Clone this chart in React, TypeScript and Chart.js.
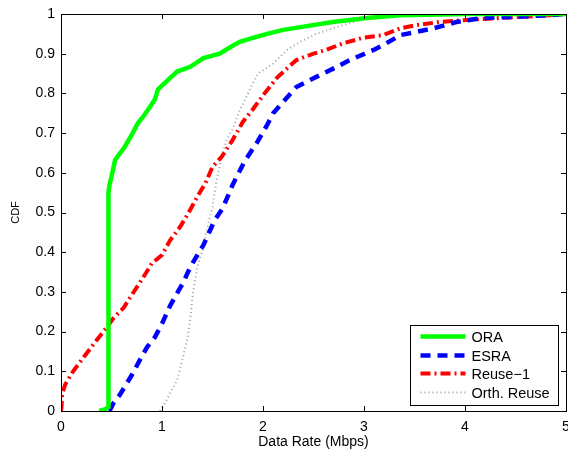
import React, { useEffect, useRef } from "react";
import { Chart, registerables } from "chart.js";

Chart.register(...registerables);

const seriesLabels = ["ORA", "ESRA", "Reuse\u22121", "Orth. Reuse"];

const oraX = [0.38, 0.44, 0.47, 0.47, 0.48, 0.5, 0.535, 0.58, 0.63, 0.71, 0.76, 0.81, 0.88, 0.93, 0.96, 1.06, 1.15, 1.28, 1.41, 1.57, 1.7, 1.77, 1.9, 2.04, 2.2, 2.37, 2.69, 3.03, 3.36, 4.0, 5.0];
const oraY = [0, 0.005, 0.01, 0.55, 0.57, 0.59, 0.632, 0.648, 0.665, 0.7, 0.725, 0.74, 0.766, 0.785, 0.81, 0.834, 0.855, 0.867, 0.889, 0.9, 0.92, 0.93, 0.94, 0.95, 0.96, 0.967, 0.98, 0.99, 0.997, 1.0, 1.0];

const esraX = [0.48, 0.52, 0.58, 0.64, 0.7, 0.78, 0.85, 0.93, 1.0, 1.08, 1.15, 1.21, 1.28, 1.41, 1.52, 1.6, 1.7, 1.82, 1.94, 2.04, 2.1, 2.19, 2.33, 2.5, 2.7, 2.86, 3.09, 3.22, 3.36, 3.52, 3.69, 3.92, 4.18, 4.51, 4.84, 5.0];
const esraY = [0, 0.02, 0.04, 0.065, 0.09, 0.128, 0.16, 0.186, 0.22, 0.265, 0.297, 0.323, 0.363, 0.418, 0.48, 0.51, 0.57, 0.63, 0.676, 0.72, 0.75, 0.776, 0.816, 0.838, 0.863, 0.884, 0.909, 0.926, 0.947, 0.955, 0.964, 0.98, 0.99, 0.993, 0.997, 1.0];

const reuseX = [0, 0.005, 0.01, 0.04, 0.12, 0.22, 0.34, 0.45, 0.52, 0.62, 0.7, 0.81, 0.9, 1.0, 1.08, 1.18, 1.26, 1.35, 1.43, 1.5, 1.59, 1.7, 1.8, 1.9, 2.0, 2.14, 2.33, 2.5, 2.63, 2.79, 2.99, 3.19, 3.36, 3.52, 3.75, 4.02, 4.35, 4.84, 5.0];
const reuseY = [0, 0.01, 0.04, 0.066, 0.1, 0.134, 0.174, 0.21, 0.234, 0.26, 0.292, 0.335, 0.372, 0.393, 0.43, 0.464, 0.498, 0.54, 0.574, 0.615, 0.64, 0.683, 0.728, 0.76, 0.795, 0.84, 0.884, 0.9, 0.91, 0.926, 0.94, 0.947, 0.964, 0.972, 0.98, 0.985, 0.99, 0.997, 1.0];

const orthX = [0.98, 1.03, 1.08, 1.15, 1.2, 1.25, 1.28, 1.3, 1.35, 1.41, 1.45, 1.5, 1.54, 1.59, 1.64, 1.7, 1.77, 1.82, 1.9, 1.95, 2.1, 2.24, 2.37, 2.53, 2.69, 2.86, 3.03, 3.23, 3.5, 4.0, 5.0];
const orthY = [0, 0.02, 0.045, 0.078, 0.128, 0.18, 0.23, 0.285, 0.363, 0.413, 0.464, 0.514, 0.58, 0.64, 0.683, 0.71, 0.758, 0.783, 0.826, 0.85, 0.875, 0.91, 0.93, 0.95, 0.964, 0.977, 0.99, 0.995, 0.998, 1.0, 1.0];

const xTicks = [0, 1, 2, 3, 4, 5];
const yTicks = [0, 0.1, 0.2, 0.3, 0.4, 0.5, 0.6, 0.7, 0.8, 0.9, 1];

const FONT = "'Liberation Sans', Arial, Helvetica, sans-serif";

const zip = (xs: number[], ys: number[]) => xs.map((x, i) => ({ x, y: ys[i] }));

const styles = [
  { color: "#00ff00", width: 4.5, dash: [] as number[] },
  { color: "#0000ff", width: 4.5, dash: [10, 7] },
  { color: "#ff0000", width: 4, dash: [10, 4, 2, 4] },
  { color: "#a0a0a0", width: 2, dash: [1, 3] },
];

const framePlugin = {
  id: "frame",
  afterDatasetsDraw(chart: any) {
    const { ctx, chartArea: a, scales } = chart;
    const xs = scales.x;
    const ys = scales.y;
    ctx.save();
    ctx.setLineDash([]);
    ctx.strokeStyle = "#000";
    ctx.lineWidth = 1;
    const L = 5;
    ctx.beginPath();
    xTicks.forEach((t) => {
      const px = Math.round(xs.getPixelForValue(t)) + 0.5;
      ctx.moveTo(px, a.bottom);
      ctx.lineTo(px, a.bottom - L);
      ctx.moveTo(px, a.top);
      ctx.lineTo(px, a.top + L);
    });
    yTicks.forEach((t) => {
      const py = Math.round(ys.getPixelForValue(t)) + 0.5;
      ctx.moveTo(a.left, py);
      ctx.lineTo(a.left + L, py);
      ctx.moveTo(a.right, py);
      ctx.lineTo(a.right - L, py);
    });
    ctx.stroke();
    ctx.strokeRect(Math.round(a.left) + 0.5, Math.round(a.top) + 0.5, Math.round(a.right - a.left), Math.round(a.bottom - a.top));

    // legend
    const w = 148;
    const h = 80;
    const lx = Math.round(a.right - 8 - w) + 0.5;
    const ly = Math.round(a.bottom - 6 - h) + 0.5;
    ctx.fillStyle = "#fff";
    ctx.fillRect(lx, ly, w, h);
    ctx.strokeRect(lx, ly, w, h);
    const offs = [11, 30, 48, 67];
    chart.data.datasets.forEach((ds: any, i: number) => {
      const yy = ly + offs[i];
      ctx.save();
      ctx.strokeStyle = ds.borderColor;
      ctx.lineWidth = ds.borderWidth;
      ctx.setLineDash(ds.borderDash || []);
      ctx.beginPath();
      ctx.moveTo(lx + 10, yy);
      ctx.lineTo(lx + 55, yy);
      ctx.stroke();
      ctx.restore();
      ctx.fillStyle = "#000";
      ctx.font = `14.5px ${FONT}`;
      ctx.textBaseline = "middle";
      ctx.textAlign = "left";
      ctx.fillText(ds.label, lx + 61, yy + 1);
    });
    ctx.restore();
  },
};

export default function App() {
  const ref = useRef<HTMLCanvasElement>(null);
  useEffect(() => {
    if (!ref.current) return;
    const sets = [zip(oraX, oraY), zip(esraX, esraY), zip(reuseX, reuseY), zip(orthX, orthY)];
    const chart = new Chart(ref.current, {
      type: "line",
      data: {
        datasets: sets.map((d, i) => ({
          label: seriesLabels[i],
          data: d,
          borderColor: styles[i].color,
          backgroundColor: styles[i].color,
          borderWidth: styles[i].width,
          borderDash: styles[i].dash,
          pointRadius: 0,
          tension: 0,
          fill: false,
        })),
      },
      options: {
        responsive: false,
        animation: false,
        layout: { padding: { left: 0, right: 2, top: 14, bottom: 0 } },
        plugins: { legend: { display: false }, tooltip: { enabled: false } },
        scales: {
          x: {
            type: "linear",
            min: 0,
            max: 5,
            grid: { display: false, drawTicks: false },
            border: { display: false },
            afterBuildTicks: (s: any) => {
              s.ticks = xTicks.map((v) => ({ value: v }));
            },
            afterFit: (s: any) => {
              s.height = 46;
              s.paddingLeft = 0;
              s.paddingRight = 0;
            },
            ticks: {
              color: "#000",
              padding: 8,
              maxRotation: 0,
              font: { family: FONT, size: 14 },
              callback: (v: any) => String(v),
            },
            title: {
              display: true,
              text: "Data Rate (Mbps)",
              color: "#000",
              font: { family: FONT, size: 14 },
              padding: { top: 0, bottom: 6.5 },
            },
          },
          y: {
            type: "linear",
            min: 0,
            max: 1,
            grid: { display: false, drawTicks: false },
            border: { display: false },
            afterBuildTicks: (s: any) => {
              s.ticks = yTicks.map((v) => ({ value: v }));
            },
            afterFit: (s: any) => {
              s.width = 61;
              s.paddingTop = 0;
              s.paddingBottom = 0;
            },
            ticks: {
              color: "#000",
              padding: 6,
              font: { family: FONT, size: 14 },
              callback: (v: any) => String(Number(Number(v).toFixed(1))),
            },
            title: {
              display: true,
              text: "CDF",
              color: "#000",
              font: { family: FONT, size: 11 },
              padding: { top: 9, bottom: 0 },
            },
          },
        },
      },
      plugins: [framePlugin],
    } as any);
    return () => chart.destroy();
  }, []);
  return (
    <div style={{ position: "absolute", left: 0, top: 0, width: 568, height: 457, background: "#fff" }}>
      <canvas ref={ref} width={568} height={457} style={{ display: "block" }} />
    </div>
  );
}
